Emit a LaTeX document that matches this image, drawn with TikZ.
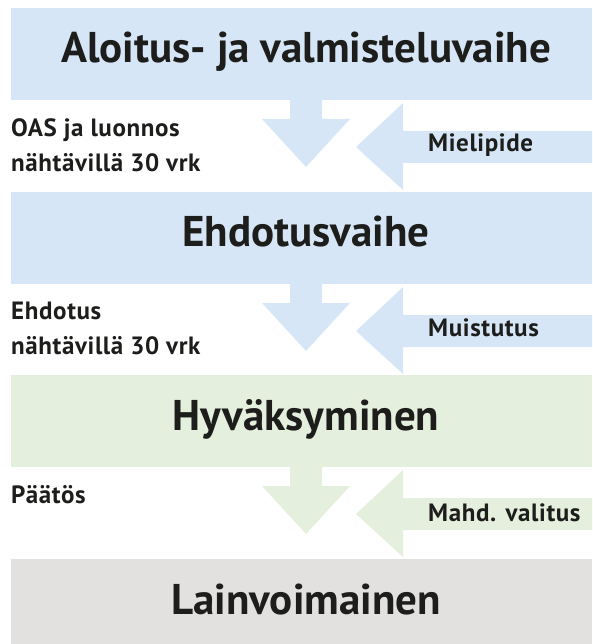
\documentclass[tikz,border=0pt]{standalone}
\usepackage{fontspec}
\setmainfont{PT Sans}
\newfontfamily\lblfont[LetterSpace=2.5]{PT Sans}
\definecolor{cblue}{RGB}{214,230,246}
\definecolor{cgreen}{RGB}{229,239,221}
\definecolor{cgray}{RGB}{226,225,224}
\definecolor{ctext}{RGB}{29,29,27}
\tikzset{
  phase/.style={draw=none, inner sep=0pt, minimum width=581pt, minimum height=92pt, anchor=north west},
  title/.style={font=\bfseries\fontsize{43}{43}\selectfont, text=ctext, anchor=base, inner sep=0pt},
  lbl/.style={font=\lblfont\bfseries\fontsize{25}{25}\selectfont, text=ctext, anchor=base west, inner sep=0pt},
}
\begin{document}
\begin{tikzpicture}[x=1pt,y=-1pt]
\useasboundingbox (0,0) rectangle (592,644);
\begin{scope}
\clip (0,0) rectangle (592,644);
\node[phase, fill=cblue] (p1) at (11,8) {};
\node[phase, fill=cblue] (p2) at (11,192) {};
\node[phase, fill=cgreen] (p3) at (11,375) {};
\node[phase, fill=cgray] (p4) at (11,559) {};
\end{scope}
\node[title] (t1) at (306,63) {Aloitus- ja valmisteluvaihe};
\node[title] (t2) at (306,246) {Ehdotusvaihe};
\node[title] (t3) at (306,430) {Hyväksyminen};
\node[title] (t4) at (306,614) {Lainvoimainen};
\foreach \B/\c in {100/cblue, 284/cblue, 467/cgreen} {
  \fill[\c] (290,\B) -- (322,\B) -- (322,\B+19) -- (350,\B+19) -- (306,\B+67)
     -- (262,\B+19) -- (290,\B+19) -- cycle;
  \fill[\c] (592,\B+31) -- (403,\B+31) -- (403,\B+3) -- (356,\B+47)
     -- (403,\B+90) -- (403,\B+63) -- (592,\B+63) -- cycle;
}
\node[lbl] (l1a) at (11,137) {OAS ja luonnos};
\node[lbl] (l1b) at (11,172) {nähtävillä 30 vrk};
\node[lbl] (l2a) at (11,319) {Ehdotus};
\node[lbl] (l2b) at (11,354) {nähtävillä 30 vrk};
\node[lbl] (l3a) at (11,503) {Päätös};
\node[lbl] (r1) at (428,152) {Mielipide};
\node[lbl] (r2) at (428,336) {Muistutus};
\node[lbl] (r3) at (428,521) {Mahd. valitus};
\end{tikzpicture}
\end{document}
